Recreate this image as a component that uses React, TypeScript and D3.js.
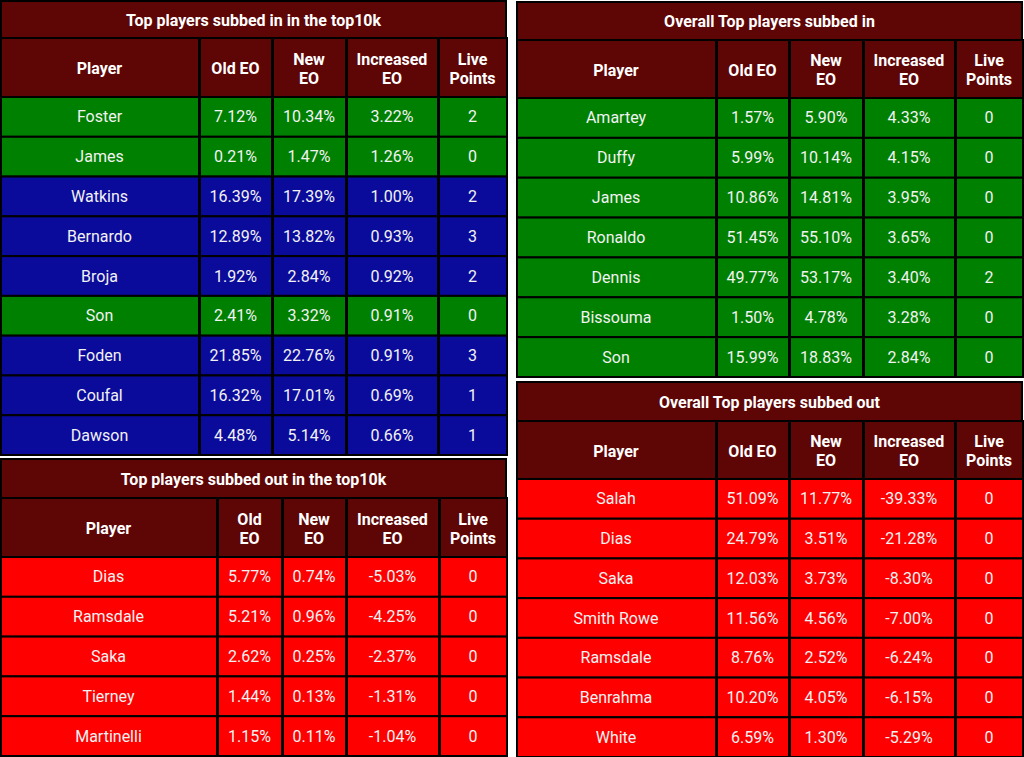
import React, { useRef, useEffect } from "react";
import * as d3 from "d3";

// ---- data ----
const inTopPlayers = ["Foster", "James", "Watkins", "Bernardo", "Broja", "Son", "Foden", "Coufal", "Dawson"];
const inTopOld = [7.12, 0.21, 16.39, 12.89, 1.92, 2.41, 21.85, 16.32, 4.48];
const inTopNew = [10.34, 1.47, 17.39, 13.82, 2.84, 3.32, 22.76, 17.01, 5.14];
const inTopInc = [3.22, 1.26, 1.0, 0.93, 0.92, 0.91, 0.91, 0.69, 0.66];
const inTopLive = [2, 0, 2, 3, 2, 0, 3, 1, 1];
const inTopKind = ["green", "green", "blue", "blue", "blue", "green", "blue", "blue", "blue"];

const outTopPlayers = ["Dias", "Ramsdale", "Saka", "Tierney", "Martinelli"];
const outTopOld = [5.77, 5.21, 2.62, 1.44, 1.15];
const outTopNew = [0.74, 0.96, 0.25, 0.13, 0.11];
const outTopInc = [-5.03, -4.25, -2.37, -1.31, -1.04];
const outTopLive = [0, 0, 0, 0, 0];

const inAllPlayers = ["Amartey", "Duffy", "James", "Ronaldo", "Dennis", "Bissouma", "Son"];
const inAllOld = [1.57, 5.99, 10.86, 51.45, 49.77, 1.5, 15.99];
const inAllNew = [5.9, 10.14, 14.81, 55.1, 53.17, 4.78, 18.83];
const inAllInc = [4.33, 4.15, 3.95, 3.65, 3.4, 3.28, 2.84];
const inAllLive = [0, 0, 0, 0, 2, 0, 0];

const outAllPlayers = ["Salah", "Dias", "Saka", "Smith Rowe", "Ramsdale", "Benrahma", "White"];
const outAllOld = [51.09, 24.79, 12.03, 11.56, 8.76, 10.2, 6.59];
const outAllNew = [11.77, 3.51, 3.73, 4.56, 2.52, 4.05, 1.3];
const outAllInc = [-39.33, -21.28, -8.3, -7.0, -6.24, -6.15, -5.29];
const outAllLive = [0, 0, 0, 0, 0, 0, 0];

const colors: Record<string, string> = {
  header: "#5e0505",
  green: "#008000",
  blue: "#0b0b9b",
  red: "#ff0000",
};

const pct = (v: number) => `${v.toFixed(2)}%`;

type Table = {
  title: string;
  headers: string[][];
  edges: number[];
  y0: number;
  titleH: number;
  headH: number;
  y1: number;
  players: string[];
  old: number[];
  nw: number[];
  inc: number[];
  live: number[];
  kind: string[];
};

const tables: Table[] = [
  {
    title: "Top players subbed in in the top10k",
    headers: [["Player"], ["Old EO"], ["New", "EO"], ["Increased", "EO"], ["Live", "Points"]],
    edges: [0, 199, 272, 346, 438, 507],
    y0: 0, titleH: 38, headH: 59, y1: 455,
    players: inTopPlayers, old: inTopOld, nw: inTopNew, inc: inTopInc, live: inTopLive, kind: inTopKind,
  },
  {
    title: "Top players subbed out in the top10k",
    headers: [["Player"], ["Old", "EO"], ["New", "EO"], ["Increased", "EO"], ["Live", "Points"]],
    edges: [0, 217, 282, 346, 439, 507],
    y0: 458, titleH: 40, headH: 59, y1: 756,
    players: outTopPlayers, old: outTopOld, nw: outTopNew, inc: outTopInc, live: outTopLive,
    kind: outTopPlayers.map(() => "red"),
  },
  {
    title: "Overall Top players subbed in",
    headers: [["Player"], ["Old EO"], ["New", "EO"], ["Increased", "EO"], ["Live", "Points"]],
    edges: [516, 716, 789, 863, 955, 1023],
    y0: 1, titleH: 39, headH: 58, y1: 377,
    players: inAllPlayers, old: inAllOld, nw: inAllNew, inc: inAllInc, live: inAllLive,
    kind: inAllPlayers.map(() => "green"),
  },
  {
    title: "Overall Top players subbed out",
    headers: [["Player"], ["Old EO"], ["New", "EO"], ["Increased", "EO"], ["Live", "Points"]],
    edges: [516, 716, 789, 863, 955, 1023],
    y0: 381, titleH: 40, headH: 58, y1: 757,
    players: outAllPlayers, old: outAllOld, nw: outAllNew, inc: outAllInc, live: outAllLive,
    kind: outAllPlayers.map(() => "red"),
  },
];

const W = 1024;
const H = 757;
const font = "Roboto, 'Noto Sans', sans-serif";

const App = () => {
  const ref = useRef<SVGSVGElement>(null);

  useEffect(() => {
    document.body.style.margin = "0";
    const svg = d3.select(ref.current);
    svg.selectAll("*").remove();
    svg.append("rect").attr("width", W).attr("height", H).attr("fill", "#ffffff");

    tables.forEach((t) => {
      const g = svg.append("g");
      const x0 = t.edges[0];
      const x1 = t.edges[t.edges.length - 1];
      const headTop = t.y0 + t.titleH;
      const bodyTop = headTop + t.headH;

      // title row
      g.append("rect")
        .attr("x", x0 + 1).attr("y", t.y0 + 1)
        .attr("width", x1 - x0 - 2).attr("height", t.titleH - 1)
        .attr("fill", colors.header).attr("stroke", "#000").attr("stroke-width", 2);
      g.append("text")
        .attr("x", (x0 + x1) / 2).attr("y", t.y0 + t.titleH / 2 + 1)
        .attr("text-anchor", "middle").attr("dominant-baseline", "central")
        .attr("font-family", font).attr("font-weight", 700).attr("font-size", 16)
        .attr("fill", "#fff").text(t.title);

      // header row
      t.headers.forEach((lines, c) => {
        const cx0 = t.edges[c];
        const cx1 = t.edges[c + 1];
        g.append("rect")
          .attr("x", cx0 + 1).attr("y", headTop)
          .attr("width", cx1 - cx0 - 1).attr("height", t.headH)
          .attr("fill", colors.header).attr("stroke", "#000").attr("stroke-width", 2);
        const cy = headTop + t.headH / 2;
        lines.forEach((ln, i) => {
          g.append("text")
            .attr("x", (cx0 + cx1) / 2)
            .attr("y", cy + (i - (lines.length - 1) / 2) * 19 + 1)
            .attr("text-anchor", "middle").attr("dominant-baseline", "central")
            .attr("font-family", font).attr("font-weight", 700).attr("font-size", 16)
            .attr("fill", "#fff").text(ln);
        });
      });

      // body rows
      const y = d3.scaleBand<number>()
        .domain(d3.range(t.players.length))
        .range([bodyTop, t.y1]);

      t.players.forEach((p, r) => {
        const cells = [p, pct(t.old[r]), pct(t.nw[r]), pct(t.inc[r]), String(t.live[r])];
        cells.forEach((txt, c) => {
          const cx0 = t.edges[c];
          const cx1 = t.edges[c + 1];
          g.append("rect")
            .attr("x", cx0 + 1).attr("y", y(r)!)
            .attr("width", cx1 - cx0 - 1).attr("height", y.bandwidth())
            .attr("fill", colors[t.kind[r]]).attr("stroke", "#000").attr("stroke-width", 2);
          g.append("text")
            .attr("x", (cx0 + cx1) / 2).attr("y", y(r)! + y.bandwidth() / 2)
            .attr("text-anchor", "middle").attr("dominant-baseline", "central")
            .attr("font-family", font).attr("font-size", 16)
            .attr("fill", "#f2f2f2").text(txt);
        });
      });
    });
  }, []);

  return (
    <svg
      ref={ref}
      width={W}
      height={H}
      style={{ position: "absolute", left: 0, top: 0, display: "block" }}
    />
  );
};

export default App;
